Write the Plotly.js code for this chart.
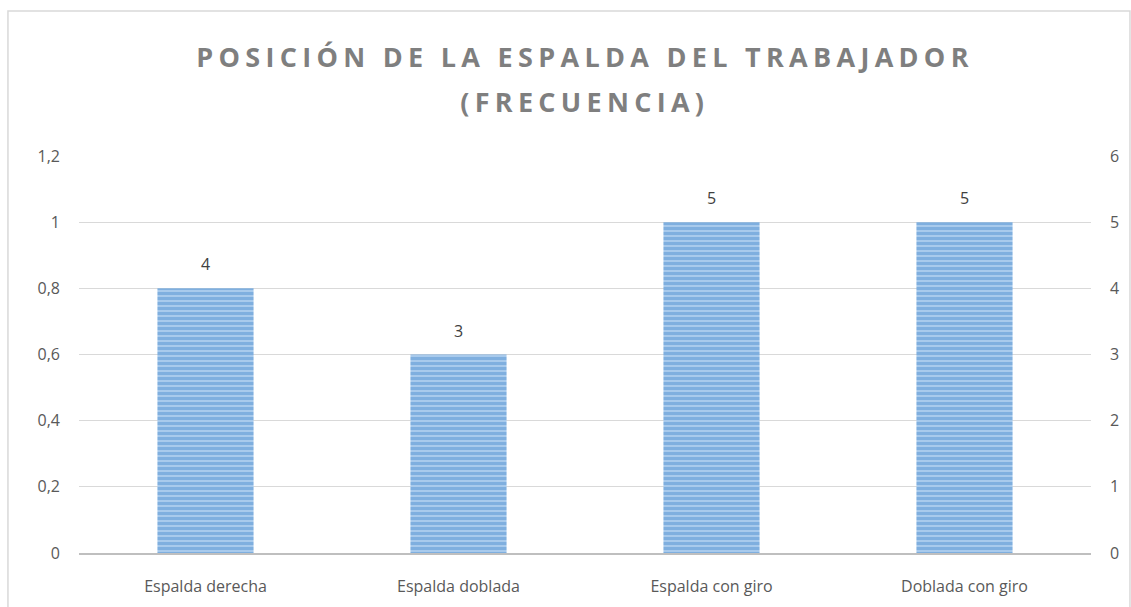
<!DOCTYPE html>
<html>
<head>
<meta charset="utf-8">
<script src="https://cdn.plot.ly/plotly-3.0.1.min.js"></script>
<style>
html,body{margin:0;padding:0;background:#fff;}
#chart{width:1131px;height:607px;}
.gtitle{letter-spacing:5.3px;}
g.annotation[data-index="0"] text{letter-spacing:5.3px;}
</style>
</head>
<body>
<div id="chart"></div>
<script>
const categories = ["Espalda derecha", "Espalda doblada", "Espalda con giro", "Doblada con giro"];
const frecuencia = [4, 3, 5, 5];
const leftTicks = [0, 0.2, 0.4, 0.6, 0.8, 1, 1.2];
const rightTicks = [0, 1, 2, 3, 4, 5, 6];
const titleLine1 = "POSICIÓN DE LA ESPALDA DEL TRABAJADOR";
const titleLine2 = "(FRECUENCIA)";

const fontFam = "Open Sans, Carlito, Calibri, sans-serif";
const titleFont = {family: fontFam, size: 27, color: "#7F7F7F", weight: "bold"};

const traces = [
  {
    type: "scatter",
    mode: "markers",
    x: categories,
    y: categories.map(() => null),
    yaxis: "y",
    showlegend: false,
    hoverinfo: "skip"
  },
  {
    type: "bar",
    x: categories,
    y: frecuencia,
    yaxis: "y2",
    width: 0.38,
    marker: {
      color: "#9DC3E6",
      line: {width: 0},
      pattern: {shape: "-", fgcolor: "#5594D1", bgcolor: "#A8CAEC", size: 5, solidity: 0.6, fillmode: "overlay"}
    },
    showlegend: false
  }
];

const annotations = [
  {
    text: titleLine2,
    xref: "paper", yref: "paper",
    x: 0.5, y: (553 - 101) / 397,
    xanchor: "center", yanchor: "middle",
    showarrow: false,
    font: titleFont
  }
].concat(categories.map((c, i) => ({
  text: String(frecuencia[i]),
  x: c,
  y: frecuencia[i],
  xref: "x", yref: "y2",
  yanchor: "middle",
  yshift: 24,
  showarrow: false,
  font: {family: fontFam, size: 16, color: "#404040"}
})));

const layout = {
  width: 1131,
  height: 607,
  paper_bgcolor: "#ffffff",
  plot_bgcolor: "#ffffff",
  separators: ",.",
  margin: {l: 79, r: 40, t: 156, b: 54},
  title: {
    text: titleLine1,
    x: 0.5,
    xref: "paper",
    y: 1 - 58 / 607,
    yref: "container",
    yanchor: "middle",
    font: titleFont
  },
  xaxis: {
    type: "category",
    showgrid: false,
    zeroline: false,
    showline: true,
    linecolor: "#BFBFBF",
    linewidth: 2,
    ticks: "",
    ticklabelstandoff: 18,
    tickfont: {family: fontFam, size: 16, color: "#595959"}
  },
  yaxis: {
    range: [0, 1.2],
    tickvals: leftTicks,
    showgrid: true,
    gridcolor: "#D9D9D9",
    gridwidth: 1,
    zeroline: false,
    showline: false,
    ticks: "",
    ticklabelstandoff: 18,
    tickfont: {family: fontFam, size: 16, color: "#595959"}
  },
  yaxis2: {
    range: [0, 6],
    tickvals: rightTicks,
    overlaying: "y",
    side: "right",
    showgrid: false,
    zeroline: false,
    showline: false,
    ticks: "",
    ticklabelstandoff: 18,
    tickfont: {family: fontFam, size: 16, color: "#595959"}
  },
  annotations: annotations,
  shapes: [
    {
      type: "rect",
      xref: "paper", yref: "paper",
      x0: -0.0702, x1: 1.0385, y0: -0.2, y1: 1.3652,
      line: {color: "#D9D9D9", width: 1.5},
      fillcolor: "rgba(0,0,0,0)",
      layer: "below"
    }
  ]
};

Plotly.newPlot("chart", traces, layout, {displayModeBar: false, staticPlot: true});
</script>
</body>
</html>
